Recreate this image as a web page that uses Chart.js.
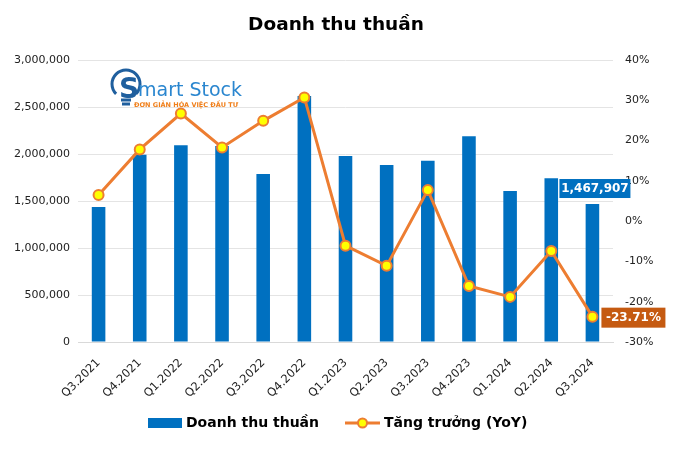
<!DOCTYPE html>
<html>
<head>
<meta charset="utf-8">
<script src="https://cdn.jsdelivr.net/npm/chart.js@4/dist/chart.umd.min.js"></script>
<style>
  html, body { margin: 0; padding: 0; background: #fff; }
  #wrap { width: 685px; height: 450px; }
</style>
</head>
<body>
<div id="wrap"><canvas id="chart" width="685" height="450"></canvas></div>
<script>
const quarters = ['Q3.2021', 'Q4.2021', 'Q1.2022', 'Q2.2022', 'Q3.2022', 'Q4.2022', 'Q1.2023',
                  'Q2.2023', 'Q3.2023', 'Q4.2023', 'Q1.2024', 'Q2.2024', 'Q3.2024'];
const revenue = [1436000, 1992000, 2094000, 2085000, 1787000, 2618000, 1979000,
                 1883000, 1929000, 2190000, 1606000, 1741000, 1467907];
const growthYoY = [6.5, 17.8, 26.7, 18.3, 24.9, 30.7, -6.1, -11.1, 7.7, -16.1, -18.8, -7.4, -23.71];

const FONT = 'Tahoma, "DejaVu Sans", sans-serif';
const BLUE = '#0070c0';
const ORANGE = '#ed7d31';

const fmt = n => n.toLocaleString('en-US');

// title, logo, legend and the two end-value labels
const decor = {
  id: 'decor',
  afterDraw(chart) {
    const ctx = chart.ctx;
    ctx.save();

    // title
    ctx.fillStyle = '#000';
    ctx.font = 'bold 18.5px ' + FONT;
    ctx.textAlign = 'center';
    ctx.textBaseline = 'middle';
    ctx.fillText('Doanh thu thuần', 336, 25);

    // logo watermark
    ctx.strokeStyle = '#1f5f9e';
    ctx.lineWidth = 3;
    ctx.beginPath();
    ctx.arc(126, 84, 14, Math.PI * 0.75, Math.PI * 2.25);
    ctx.stroke();
    ctx.beginPath();
    ctx.moveTo(121, 100); ctx.lineTo(131, 100);
    ctx.moveTo(122, 104); ctx.lineTo(130, 104);
    ctx.stroke();
    ctx.fillStyle = '#1f5f9e';
    ctx.font = 'bold 28px ' + FONT;
    ctx.textAlign = 'left';
    ctx.textBaseline = 'alphabetic';
    ctx.fillText('S', 119, 98);
    ctx.fillStyle = '#2a86cf';
    ctx.font = '19px ' + FONT;
    ctx.fillText('mart Stock', 138, 96);
    ctx.fillStyle = '#f07f1a';
    ctx.font = 'bold 6.5px ' + FONT;
    ctx.fillText('ĐƠN GIẢN HÓA VIỆC ĐẦU TƯ', 134, 107);

    // end-value labels
    const last = quarters.length - 1;
    const pt = chart.getDatasetMeta(0).data[last];
    const bar = chart.getDatasetMeta(1).data[last];
    ctx.font = 'bold 12px ' + FONT;
    ctx.textBaseline = 'middle';
    ctx.textAlign = 'center';
    ctx.fillStyle = BLUE;
    ctx.fillRect(bar.x - 33, bar.y - 25, 71, 19);
    ctx.fillStyle = '#fff';
    ctx.fillText(fmt(revenue[last]), bar.x + 2.5, bar.y - 15);
    ctx.fillStyle = '#c55a11';
    ctx.fillRect(pt.x + 9, pt.y - 9, 64, 20);
    ctx.fillStyle = '#fff';
    ctx.fillText(growthYoY[last].toFixed(2) + '%', pt.x + 41, pt.y + 1);

    // legend
    ctx.fillStyle = BLUE;
    ctx.fillRect(148, 418, 34, 10);
    ctx.fillStyle = '#000';
    ctx.font = 'bold 14px ' + FONT;
    ctx.textAlign = 'left';
    ctx.fillText('Doanh thu thuần', 186, 423);
    ctx.strokeStyle = ORANGE;
    ctx.lineWidth = 3;
    ctx.beginPath(); ctx.moveTo(345, 423); ctx.lineTo(380, 423); ctx.stroke();
    ctx.beginPath(); ctx.arc(362.5, 423, 4.5, 0, Math.PI * 2);
    ctx.fillStyle = '#ffff00'; ctx.fill();
    ctx.lineWidth = 2; ctx.stroke();
    ctx.fillStyle = '#000';
    ctx.fillText('Tăng trưởng (YoY)', 384, 423);

    ctx.restore();
  }
};

new Chart(document.getElementById('chart'), {
  data: {
    labels: quarters,
    datasets: [
      {
        type: 'line',
        label: 'Tăng trưởng (YoY)',
        data: growthYoY,
        yAxisID: 'yR',
        borderColor: ORANGE,
        borderWidth: 3,
        pointRadius: 5,
        pointBorderWidth: 2,
        pointBackgroundColor: '#ffff00',
        pointBorderColor: ORANGE,
        tension: 0,
        order: 0
      },
      {
        type: 'bar',
        label: 'Doanh thu thuần',
        data: revenue,
        yAxisID: 'y',
        backgroundColor: BLUE,
        barPercentage: 0.33,
        categoryPercentage: 1,
        order: 1
      }
    ]
  },
  options: {
    responsive: false,
    animation: false,
    layout: { padding: { top: 60, bottom: 48, left: 0, right: 0 } },
    plugins: {
      legend: { display: false },
      title: { display: false },
      tooltip: { enabled: false }
    },
    scales: {
      x: {
        grid: { display: false },
        border: { color: '#d9d9d9', width: 1 },
        ticks: { color: '#222', font: { family: FONT, size: 11.5 }, minRotation: 45, maxRotation: 45, padding: 6 },
        afterFit: s => { s.height = 60; }
      },
      y: {
        position: 'left',
        min: 0, max: 3000000,
        ticks: { stepSize: 500000, color: '#222', font: { family: FONT, size: 11 }, padding: 8, callback: v => fmt(v) },
        grid: { color: '#e4e4e4', drawTicks: false },
        border: { display: false },
        afterFit: s => { s.width = 78; }
      },
      yR: {
        position: 'right',
        min: -30, max: 40,
        ticks: { stepSize: 10, color: '#222', font: { family: FONT, size: 11 }, padding: 12, callback: v => v + '%' },
        grid: { display: false, drawTicks: false },
        border: { display: false },
        afterFit: s => { s.width = 72; }
      }
    }
  },
  plugins: [decor]
});
</script>
</body>
</html>
